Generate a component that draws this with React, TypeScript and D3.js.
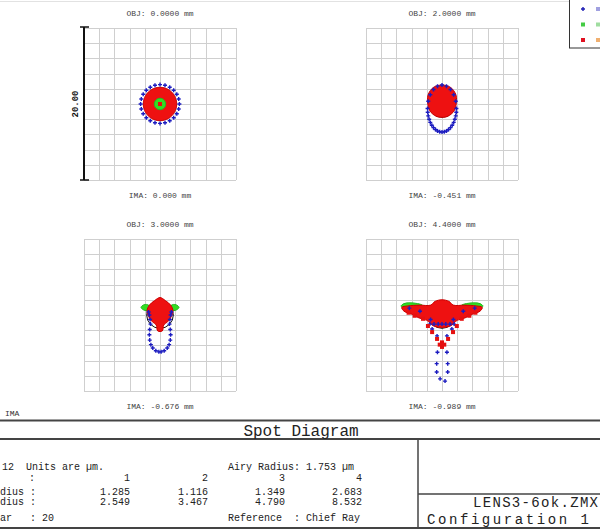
import React, { useRef, useEffect } from 'react';
import * as d3 from 'd3';

type Pt = [number, number];

// field labels
const objLabels = ['OBJ: 0.0000 mm', 'OBJ: 2.0000 mm', 'OBJ: 3.0000 mm', 'OBJ: 4.4000 mm'];
const imaLabels = ['IMA: 0.000 mm', 'IMA: -0.451 mm', 'IMA: -0.676 mm', 'IMA: -0.989 mm'];

// spot data in µm, relative to chief ray (y up)
const redHull1: Pt[] = [[2.2, 0], [1.91, 1.1], [1.1, 1.91], [0, 2.2], [-1.1, 1.91], [-1.91, 1.1], [-2.2, 0], [-1.91, -1.1], [-1.1, -1.91], [0, -2.2], [1.1, -1.91], [1.91, -1.1]];
const greenHulls1: Pt[][] = [[[0.75, 0], [0.53, 0.53], [0, 0.75], [-0.53, 0.53], [-0.75, 0], [-0.53, -0.53], [0, -0.75], [0.53, -0.53]]];
const bluePts1: Pt[] = [[2.55, 0], [2.46, 0.66], [2.21, 1.28], [1.8, 1.8], [1.28, 2.21], [0.66, 2.46], [0, 2.55], [-0.66, 2.46], [-1.28, 2.21], [-1.8, 1.8], [-2.21, 1.28], [-2.46, 0.66], [-2.55, 0], [-2.46, -0.66], [-2.21, -1.28], [-1.8, -1.8], [-1.28, -2.21], [-0.66, -2.46], [0, -2.55], [0.66, -2.46], [1.28, -2.21], [1.8, -1.8], [2.21, -1.28], [2.46, -0.66]];
const redPts1: Pt[] = [[0, 0]];

const redHull2: Pt[] = [[0, 2.5], [1.1, 2.2], [1.8, 1.3], [1.9, 0.3], [1.6, -0.9], [0.8, -1.6], [0, -1.75], [-0.8, -1.6], [-1.6, -0.9], [-1.9, 0.3], [-1.8, 1.3], [-1.1, 2.2]];
const greenHulls2: Pt[][] = [];
const bluePts2: Pt[] = [[1.9, -0.6], [1.81, 0.36], [1.54, 1.22], [1.12, 1.91], [0.59, 2.35], [0, 2.5], [-0.59, 2.35], [-1.12, 1.91], [-1.54, 1.22], [-1.81, 0.36], [-1.9, -0.6], [-1.81, -1.56], [-1.54, -2.42], [-1.12, -3.11], [-0.59, -3.55], [0, -3.7], [0.59, -3.55], [1.12, -3.11], [1.54, -2.42], [1.81, -1.56], [-1.88, -1.08], [-1.69, -2.01], [-1.34, -2.79], [-0.86, -3.36], [-0.3, -3.66], [0.3, -3.66], [0.86, -3.36], [1.34, -2.79], [1.69, -2.01], [1.88, -1.08]];
const redPts2: Pt[] = [];

const redHull3: Pt[] = [[0, 2.3], [0.7, 1.9], [1.4, 1.3], [1.7, 0.6], [1.5, -0.2], [1.0, -0.9], [0.5, -1.3], [0.3, -2.1], [-0.3, -2.1], [-0.5, -1.3], [-1.0, -0.9], [-1.5, -0.2], [-1.7, 0.6], [-1.4, 1.3], [-0.7, 1.9]];
const greenHulls3: Pt[][] = [
  [[-2.5, 1.0], [-2.1, 1.35], [-1.5, 1.3], [-1.4, 0.7], [-2.0, 0.6]],
  [[2.5, 1.0], [2.1, 1.35], [1.5, 1.3], [1.4, 0.7], [2.0, 0.6]],
];
const bluePts3: Pt[] = [[-1.5, 0.4], [1.5, 0.4], [-1.4, 0], [1.4, 0], [-1.3, -0.6], [1.3, -0.6], [-1.25, -1.2], [1.25, -1.2], [-1.35, -1.9], [1.35, -1.9], [-1.4, -2.6], [1.4, -2.6], [-1.35, -3.3], [1.35, -3.3], [-1.2, -3.9], [1.2, -3.9], [-0.95, -4.35], [0.95, -4.35], [-0.55, -4.7], [0.55, -4.7], [-0.15, -4.85], [0.15, -4.85]];
const redPts3: Pt[] = [];

const redHull4: Pt[] = [[0, 2.0], [0.9, 1.8], [1.5, 1.3], [3.0, 1.3], [4.5, 1.2], [5.3, 1.0], [5.0, 0.5], [4.0, 0.1], [3.0, -0.4], [2.0, -0.7], [1.2, -1.4], [0.5, -1.6], [-0.5, -1.6], [-1.2, -1.4], [-2.0, -0.7], [-3.0, -0.4], [-4.0, 0.1], [-5.0, 0.5], [-5.3, 1.0], [-4.5, 1.2], [-3.0, 1.3], [-1.5, 1.3], [-0.9, 1.8]];
const greenHulls4: Pt[][] = [
  [[-5.4, 1.15], [-5.0, 1.5], [-4.2, 1.6], [-3.2, 1.5], [-2.6, 1.3], [-3.4, 1.15], [-4.6, 0.95]],
  [[5.4, 1.15], [5.0, 1.5], [4.2, 1.6], [3.2, 1.5], [2.6, 1.3], [3.4, 1.15], [4.6, 0.95]],
];
const bluePts4: Pt[] = [[-1.6, -1.2], [-1.05, -1.2], [-0.5, -1.2], [0, -1.2], [0.5, -1.2], [1.05, -1.2], [1.6, -1.2], [-1.5, -0.6], [1.5, -0.6], [-2.9, 0.5], [2.8, 0.5], [-4.3, 0.9], [4.3, 0.9], [-1.3, -1.85], [1.3, -1.85], [-0.65, -2.75], [0.65, -2.75], [-0.6, -4.9], [0.65, -4.9], [-0.7, -6.4], [0.75, -6.4], [-0.7, -7.5], [0.75, -7.5], [-0.25, -8.4], [0.4, -8.7]];
const redPts4: Pt[] = [[-2.5, -0.5], [2.6, -0.5], [-1.85, -1.45], [1.95, -1.45], [-1.3, -2.25], [1.45, -2.25], [-0.65, -3.15], [0.8, -3.15], [0, -3.6], [-0.3, -3.9], [0.3, -3.9], [0, -4.2], [0, -3.9], [-3.6, -0.1], [3.6, -0.1], [-4.4, 0.3], [4.4, 0.3]];

const redHulls = [redHull1, redHull2, redHull3, redHull4];
const greenHulls = [greenHulls1, greenHulls2, greenHulls3, greenHulls4];
const bluePts = [bluePts1, bluePts2, bluePts3, bluePts4];
const redPts = [redPts1, redPts2, redPts3, redPts4];

const airyRadius = 1.753;
const scaleBar = 20;

// table
const fieldNums = ['1', '2', '3', '4'];
const rmsRadius = ['1.285', '1.116', '1.349', '2.683'];
const geoRadius = ['2.549', '3.467', '4.790', '8.532'];

const legendColors = ['#1c1cb4', '#44cc44', '#e01020'];
const legendTailColors = ['#a0a0e0', '#a0dda0', '#f0b070'];

const App: React.FC = () => {
  const svgRef = useRef<SVGSVGElement | null>(null);

  useEffect(() => {
    const svg = d3.select(svgRef.current);
    svg.selectAll('*').remove();
    const mono = '"Liberation Mono", "DejaVu Sans Mono", monospace';
    const size = 152;
    const panelX = [84, 366, 84, 366];
    const panelY = [28, 28, 239, 239];

    svg.append('rect').attr('width', 600).attr('height', 529).attr('fill', 'white');
    svg.append('line').attr('x1', 0).attr('x2', 569).attr('y1', 1.5).attr('y2', 1.5)
      .attr('stroke', '#e2e2e2');

    const line = d3.line().curve(d3.curveCatmullRomClosed.alpha(0.5));

    for (let i = 0; i < 4; i++) {
      const x0 = panelX[i], y0 = panelY[i];
      const x = d3.scaleLinear().domain([-scaleBar / 2, scaleBar / 2]).range([x0, x0 + size]);
      const y = d3.scaleLinear().domain([-scaleBar / 2, scaleBar / 2]).range([y0 + size, y0]);
      const g = svg.append('g');
      const ticks = d3.range(-10, 10.01, 2);

      g.selectAll('.vg').data(ticks).enter().append('line')
        .attr('x1', d => Math.round(x(d)) + 0.5).attr('x2', d => Math.round(x(d)) + 0.5)
        .attr('y1', y0).attr('y2', y0 + size)
        .attr('stroke', '#cfcfcf').attr('stroke-width', 1);
      g.selectAll('.hg').data(ticks).enter().append('line')
        .attr('y1', d => Math.round(y(d)) + 0.5).attr('y2', d => Math.round(y(d)) + 0.5)
        .attr('x1', x0).attr('x2', x0 + size)
        .attr('stroke', '#cfcfcf').attr('stroke-width', 1);

      // airy disk
      g.append('circle').attr('cx', x(0)).attr('cy', y(0))
        .attr('r', x(airyRadius) - x(0))
        .attr('fill', 'none').attr('stroke', '#111').attr('stroke-width', 1);

      greenHulls[i].forEach(h => {
        if (i === 0) return;
        const gp = h.map(p => [x(p[0]), y(p[1])] as [number, number]);
        g.append('path').attr('d', line(gp)).attr('fill', '#33dd22')
          .attr('stroke', '#22bb22').attr('stroke-width', 1);
      });

      // red envelope
      const pts = redHulls[i].map(p => [x(p[0]), y(p[1])] as [number, number]);
      g.append('path').attr('d', line(pts)).attr('fill', '#ee1111')
        .attr('stroke', '#cc0000').attr('stroke-width', 1);

      if (i === 0) {
        greenHulls[i].forEach(h => {
          const gp = h.map(p => [x(p[0]), y(p[1])] as [number, number]);
          g.append('path').attr('d', line(gp)).attr('fill', '#33dd22')
            .attr('stroke', '#22bb22').attr('stroke-width', 1);
        });
      }

      g.selectAll('.blue').data(bluePts[i]).enter().append('path')
        .attr('d', d => `M${x(d[0]) - 2},${y(d[1])}H${x(d[0]) + 2}M${x(d[0])},${y(d[1]) - 2}V${y(d[1]) + 2}`)
        .attr('stroke', '#1c1cc0').attr('stroke-width', 1.4);

      g.selectAll('.red').data(redPts[i]).enter().append('rect')
        .attr('x', d => x(d[0]) - 2).attr('y', d => y(d[1]) - 2)
        .attr('width', 4).attr('height', 4).attr('fill', '#e51010');

      g.append('text').attr('x', x0 + size / 2).attr('y', y0 - 12)
        .attr('text-anchor', 'middle').attr('font-family', mono).attr('font-size', 8)
        .attr('fill', '#444').text(objLabels[i]);
      g.append('text').attr('x', x0 + size / 2).attr('y', y0 + size + 18)
        .attr('text-anchor', 'middle').attr('font-family', mono).attr('font-size', 8)
        .attr('fill', '#444').text(imaLabels[i]);
    }

    // scale bar
    const sb = svg.append('g');
    sb.append('line').attr('x1', 84).attr('x2', 84).attr('y1', 27).attr('y2', 180)
      .attr('stroke', '#111').attr('stroke-width', 2);
    [27, 180].forEach(yy => sb.append('line').attr('x1', 80).attr('x2', 89)
      .attr('y1', yy).attr('y2', yy).attr('stroke', '#111').attr('stroke-width', 1.5));
    sb.append('text').attr('transform', 'translate(78,104) rotate(-90)')
      .attr('text-anchor', 'middle').attr('font-family', mono).attr('font-size', 9)
      .attr('font-weight', 'bold').attr('fill', '#111').text(scaleBar.toFixed(2));

    // legend
    const lg = svg.append('g');
    lg.append('rect').attr('x', 569.5).attr('y', -1).attr('width', 40).attr('height', 49)
      .attr('fill', 'white').attr('stroke', '#333');
    legendColors.forEach((c, k) => {
      const ly = 9 + k * 15.5;
      if (k === 0) {
        lg.append('path').attr('d', `M581,${ly}H585M583,${ly - 2}V${ly + 2}`)
          .attr('stroke', c).attr('stroke-width', 1.4);
      } else {
        lg.append('rect').attr('x', 581).attr('y', ly - 2).attr('width', 4).attr('height', 4)
          .attr('fill', c);
      }
      lg.append('rect').attr('x', 596).attr('y', ly - 2).attr('width', 4).attr('height', 4)
        .attr('fill', legendTailColors[k]);
    });

    svg.append('text').attr('x', 5).attr('y', 416).attr('font-family', mono).attr('font-size', 8)
      .attr('fill', '#333').text('IMA');

    // info frame
    const fr = svg.append('g').attr('stroke', '#444');
    fr.append('line').attr('x1', 0).attr('x2', 600).attr('y1', 420.5).attr('y2', 420.5).attr('stroke-width', 2);
    fr.append('line').attr('x1', 0).attr('x2', 600).attr('y1', 439).attr('y2', 439).attr('stroke-width', 2);
    fr.append('line').attr('x1', 0).attr('x2', 600).attr('y1', 528).attr('y2', 528).attr('stroke-width', 2);
    fr.append('line').attr('x1', 418).attr('x2', 418).attr('y1', 439).attr('y2', 529).attr('stroke-width', 1.5);
    fr.append('line').attr('x1', 418).attr('x2', 600).attr('y1', 494).attr('y2', 494).attr('stroke-width', 1.5);

    const txt = (xx: number, yy: number, s: string, fs = 10, anchor = 'start') =>
      svg.append('text').attr('x', xx).attr('y', yy).attr('font-family', mono)
        .attr('font-size', fs).attr('fill', '#222').attr('text-anchor', anchor)
        .attr('xml:space', 'preserve').style('white-space', 'pre').text(s);

    txt(301, 436, 'Spot Diagram', 16, 'middle');
    txt(2, 470, '12  Units are µm.');
    txt(228, 470, 'Airy Radius: 1.753 µm');
    txt(29, 481, ':');
    txt(0, 495, 'dius :');
    txt(0, 505, 'dius :');
    txt(0, 521, 'ar   : ' + scaleBar);
    txt(228, 521, 'Reference  : Chief Ray');
    const colRight = [130, 208, 285, 362];
    fieldNums.forEach((f, k) => {
      txt(colRight[k], 481, f, 10, 'end');
      txt(colRight[k], 495, rmsRadius[k], 10, 'end');
      txt(colRight[k], 505, geoRadius[k], 10, 'end');
    });
    txt(598, 507, 'LENS3-6ok.ZMX', 14, 'end').attr('textLength', 125);
    txt(427, 524, 'Configuration 1', 14).attr('textLength', 162);
  }, []);

  return (
    <svg ref={svgRef} width={600} height={529}
      style={{ position: 'absolute', left: 0, top: 0 }}></svg>
  );
};

export default App;
